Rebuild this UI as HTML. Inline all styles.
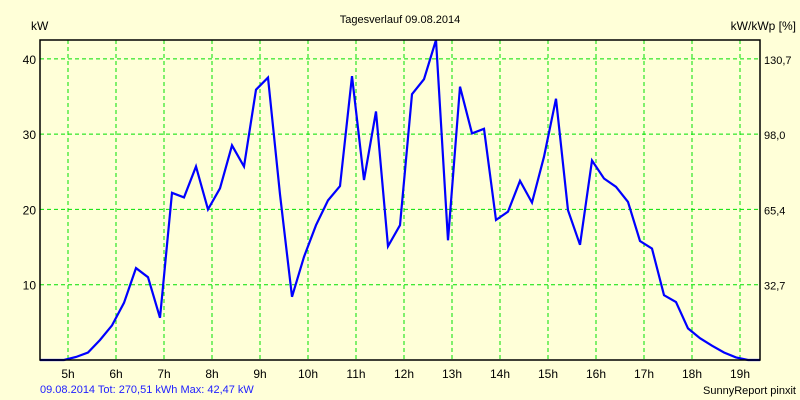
<!DOCTYPE html>
<html><head><meta charset="utf-8"><style>
html,body{margin:0;padding:0;background:#ffffd8;}
svg{display:block;font-family:"Liberation Sans",sans-serif;font-size:11px;}
</style></head><body>
<svg id="chart" width="800" height="400" viewBox="0 0 800 400">
<rect x="0" y="0" width="800" height="400" fill="#ffffd8"/>
<text x="400" y="23" text-anchor="middle" fill="#000">Tagesverlauf 09.08.2014</text>
<text x="31" y="30" fill="#000" style="font-size:12px">kW</text>
<text x="796" y="30" text-anchor="end" fill="#000" style="font-size:12px">kW/kWp [%]</text>
<g id="grid"></g>
<g id="axes"></g>
<path id="line" fill="none" stroke="#0000ff" stroke-width="2.2" stroke-linejoin="miter"/>
<rect x="40" y="40" width="720" height="320" fill="none" stroke="#000" stroke-width="1.5"/>
<text x="40" y="393" fill="#2020ff">09.08.2014 Tot: 270,51 kWh Max: 42,47 kW</text>
<text x="796" y="394" text-anchor="end" fill="#000">SunnyReport pinxit</text>
</svg>
<script>
const startHour = 4 + 25/60;
const stepHours = 0.25;
const powerKW = [0,0,0,0.4,1.0,2.65,4.6,7.6,12.2,11.0,5.6,22.2,21.6,25.7,20.0,22.8,28.5,25.7,35.9,37.5,22.0,8.4,13.7,17.9,21.2,23.1,37.7,23.9,33.0,15.1,17.9,35.3,37.3,42.5,15.9,36.3,30.1,30.7,18.6,19.7,23.8,20.9,27.0,34.7,19.9,15.3,26.5,24.1,23.0,21.0,15.8,14.8,8.6,7.7,4.2,2.9,1.9,1.0,0.35,0,0];
const leftTicks = [10,20,30,40];
const rightTickLabels = ["32,7","65,4","98,0","130,7"];
const hourTicks = [5,6,7,8,9,10,11,12,13,14,15,16,17,18,19];

const X0=40, X1=760, Y0=360, Y1=40;
const xMin=startHour, xMax=startHour+60*stepHours;
const yMax=42.5;
function xs(h){return X0+(h-xMin)/(xMax-xMin)*(X1-X0);}
function ys(v){return Y0-v/yMax*(Y0-Y1);}
const NS="http://www.w3.org/2000/svg";
const grid=document.getElementById('grid'), axes=document.getElementById('axes');
function mk(tag,attrs,parent){const e=document.createElementNS(NS,tag);for(const k in attrs)e.setAttribute(k,attrs[k]);parent.appendChild(e);return e;}
leftTicks.forEach((v,i)=>{
  const y=ys(v);
  const g=mk('line',{x1:X0,x2:X1,y1:y,y2:y,stroke:'#00e000','stroke-dasharray':'4,3','stroke-width':1},grid);
  
  
  const t=mk('text',{x:X0-4,y:y+5,'text-anchor':'end',fill:'#000',style:'font-size:12px'},axes);
  t.textContent=v;
  
  
  const r=mk('text',{x:X1+4,y:y+5,fill:'#000'},axes);
  r.textContent=rightTickLabels[i];
  
  
});
hourTicks.forEach(h=>{
  const x=xs(h);
  const g=mk('line',{x1:x,x2:x,y1:Y1,y2:Y0,stroke:'#00e000','stroke-dasharray':'4,3','stroke-width':1},grid);
  
  
  const t=mk('text',{x:x,y:378,'text-anchor':'middle',fill:'#000',style:'font-size:12px'},axes);
  t.textContent=h+'h';
  
  
});
const d=powerKW.map((v,i)=>(i?'L':'M')+xs(startHour+i*stepHours).toFixed(1)+','+ys(v).toFixed(1)).join(' ');
document.getElementById('line').setAttribute('d',d);
</script>
</body></html>
